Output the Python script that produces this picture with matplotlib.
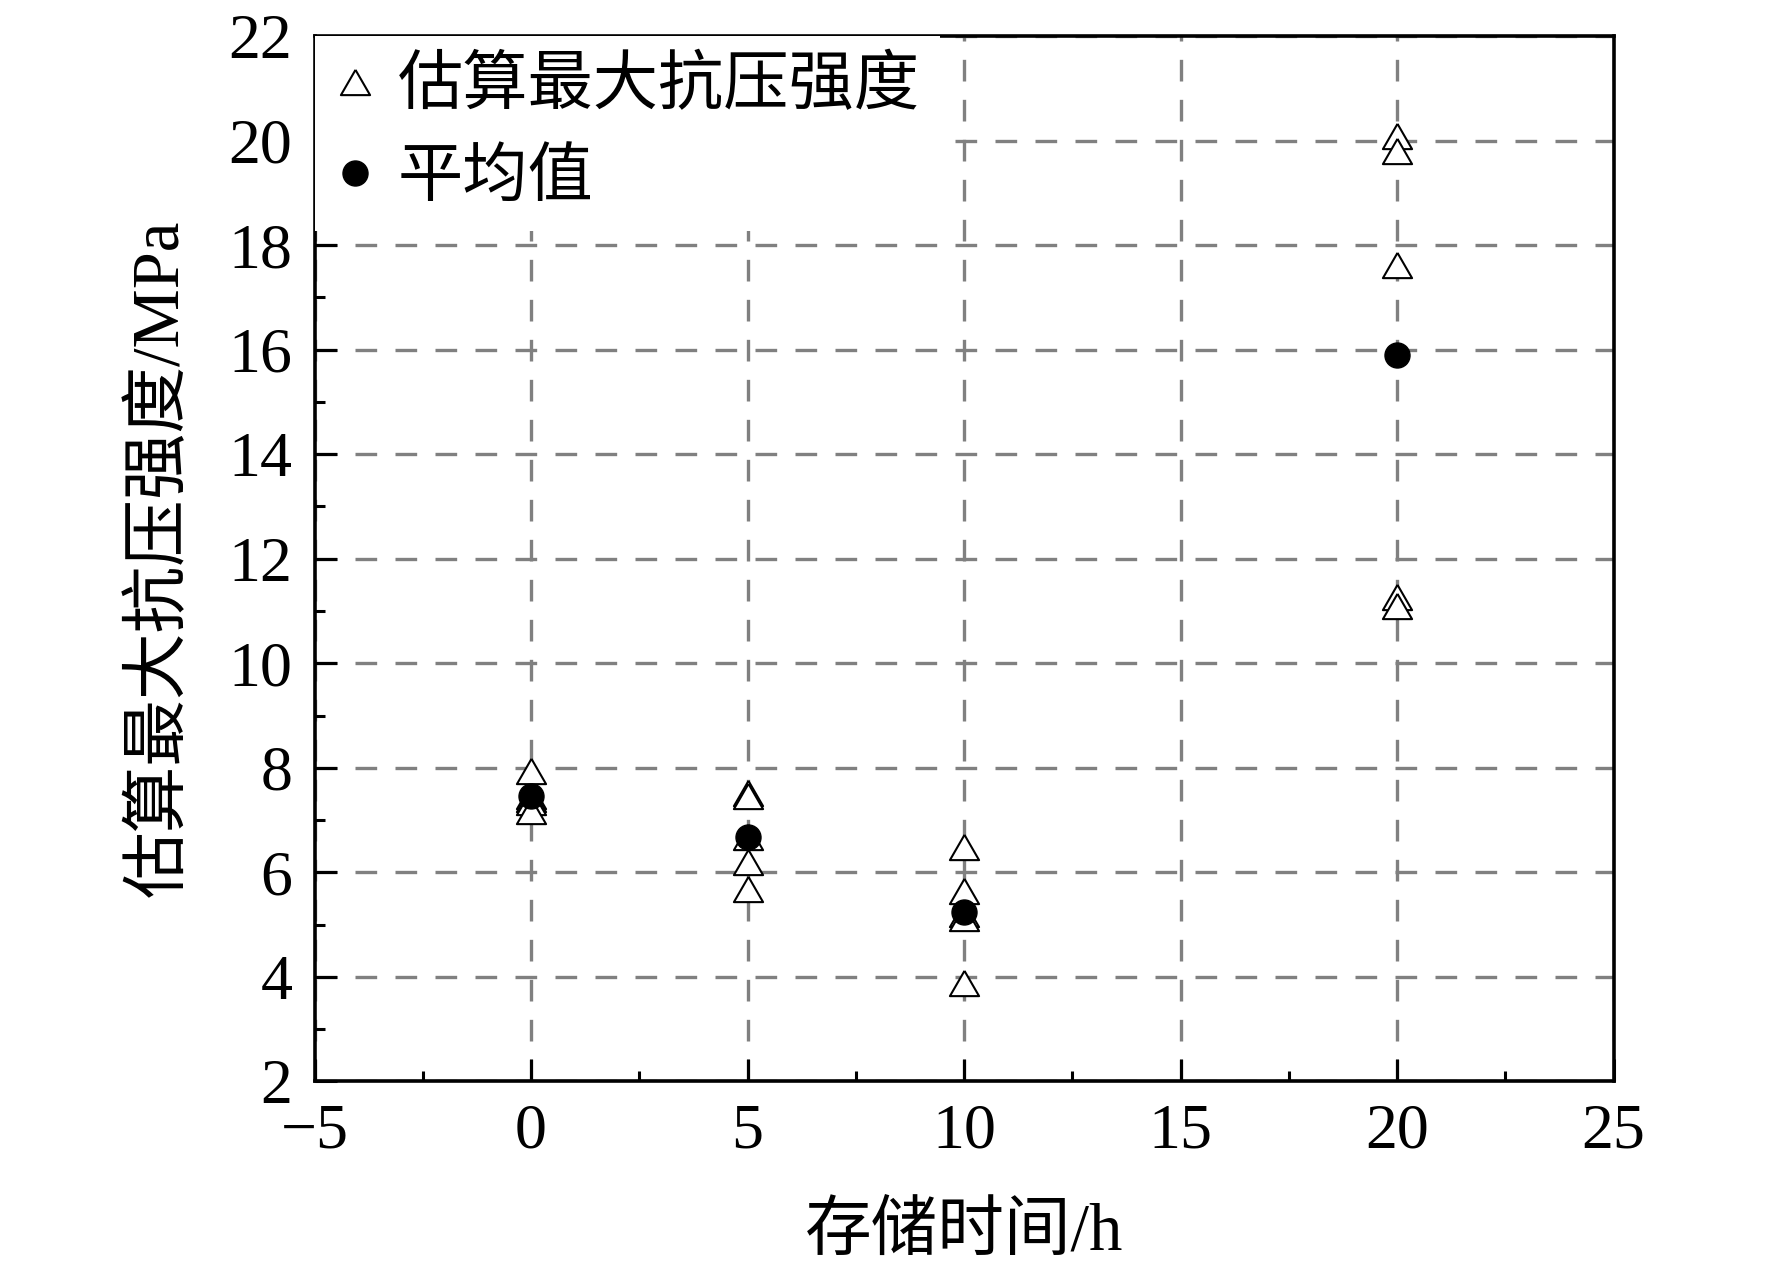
import matplotlib
matplotlib.use('Agg')
import matplotlib.pyplot as plt
from matplotlib.ticker import MultipleLocator

plt.rcParams['font.family'] = ['Liberation Serif', 'Noto Sans CJK SC', 'DejaVu Sans']
plt.rcParams['axes.unicode_minus'] = True

# storage time (h) and estimated max compressive strength (MPa)
times = [0, 5, 10, 20]
strength_0 = [7.94, 7.46, 7.40, 7.35, 7.17]
strength_5 = [7.52, 7.45, 6.68, 6.19, 5.68]
strength_10 = [6.49, 5.64, 5.20, 5.12, 3.88]
strength_20 = [20.10, 19.80, 17.62, 11.27, 11.10]
mean_values = [7.45, 6.67, 5.23, 15.90]

groups = [strength_0, strength_5, strength_10, strength_20]
xs = []
ys = []
for t, vals in zip(times, groups):
    for v in vals:
        xs.append(t)
        ys.append(v)

fig = plt.figure(figsize=(17.72, 12.67), dpi=100)
ax = fig.add_axes([0.1775, 0.1466, 0.7331, 0.8248])

# equilateral triangle like Origin's
tri = [(0, 1), (-1.1547, -1), (1.1547, -1), (0, 1)]

ax.plot(xs, ys, linestyle='none', marker=tri, markersize=21,
        markerfacecolor='white', markeredgecolor='black', markeredgewidth=1.5,
        label='估算最大抗压强度', zorder=3)
ax.plot(times, mean_values, linestyle='none', marker='o', markersize=18,
        markerfacecolor='black', markeredgecolor='black', markeredgewidth=1,
        label='平均值', zorder=4)

ax.set_xlim(-5, 25)
ax.set_ylim(2, 22)
ax.xaxis.set_major_locator(MultipleLocator(5))
ax.xaxis.set_minor_locator(MultipleLocator(2.5))
ax.yaxis.set_major_locator(MultipleLocator(2))
ax.yaxis.set_minor_locator(MultipleLocator(1))

ax.grid(True, which='major', color='#808080', linewidth=2.4,
        linestyle=(0, (6.5, 5.5)), zorder=1)
ax.set_axisbelow(True)

for s in ax.spines.values():
    s.set_linewidth(2.6)
ax.tick_params(which='both', direction='in', top=False, right=False, width=2.2)
ax.tick_params(which='major', length=16, labelsize=46)
ax.tick_params(axis='x', which='major', pad=16)
ax.tick_params(axis='y', which='major', pad=16)
ax.tick_params(which='minor', length=7)

ax.set_xlabel('存储时间/h', fontsize=48, labelpad=30)
ax.set_ylabel('估算最大抗压强度/MPa', fontsize=48, labelpad=26)

leg = ax.legend(loc='upper left', fontsize=47, frameon=True, fancybox=False,
                borderaxespad=0.0, borderpad=0.32, handlelength=0.6,
                handletextpad=0.35, labelspacing=0.48)
leg.get_frame().set_facecolor('white')
leg.get_frame().set_edgecolor('none')
leg.get_frame().set_alpha(1)

fig.savefig('out.png', dpi=100)
